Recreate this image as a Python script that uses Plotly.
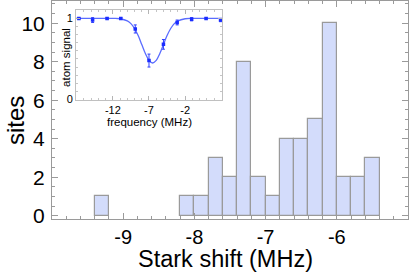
import plotly.graph_objects as go

# Histogram of Stark shifts (bin centres, MHz) and site counts
bin_centers = [-9.3, -8.1, -7.9, -7.7, -7.5, -7.3, -7.1, -6.9, -6.7, -6.5, -6.3, -6.1, -5.9, -5.7, -5.5]
site_counts = [1, 1, 1, 3, 2, 8, 2, 1, 4, 4, 5, 10, 2, 2, 3]
bin_width = 0.2

x_tickvals = [-9, -8, -7, -6]
x_ticktext = ["-9", "-8", "-7", "-6"]
y_tickvals = [0, 2, 4, 6, 8, 10]
y_ticktext = ["0", "2", "4", "6", "8", "10"]

# Inset: atom signal vs frequency
inset_freq = [-16.7, -14.8, -12.8, -10.9, -8.9, -7.0, -5.0, -3.1, -1.1, 0.9, 2.9]
inset_signal = [1.0, 0.98, 1.0, 1.0, 0.87, 0.48, 0.68, 0.95, 0.99, 1.0, 0.98]
inset_err = [0.01, 0.03, 0.01, 0.01, 0.05, 0.08, 0.06, 0.03, 0.02, 0.01, 0.02]

fit_freq = [-17.1, -12.0, -11.0, -10.0, -9.5, -9.0, -8.5, -8.0, -7.5, -7.0, -6.5,
            -6.0, -5.5, -5.0, -4.5, -4.0, -3.5, -3.0, -2.0, -1.0, 3.1]
fit_signal = [1.0, 1.0, 0.996, 0.97, 0.936, 0.876, 0.788, 0.678, 0.567, 0.482, 0.45,
              0.482, 0.567, 0.678, 0.788, 0.876, 0.936, 0.97, 0.996, 1.0, 1.0]

inset_xticks = [-12, -7, -2]
inset_xticktext = ["-12", "-7", "-2"]
inset_yticks = [0, 1]
inset_yticktext = ["0", "1"]

FONT = "Liberation Sans, Arial, sans-serif"
frame = "#9a9a9a"

fig = go.Figure()
fig.add_trace(go.Bar(
    x=bin_centers, y=site_counts, width=bin_width,
    marker=dict(color="#d3dcfb", line=dict(color="#9a9a9a", width=1.2)),
    xaxis="x", yaxis="y", showlegend=False,
))
fig.add_trace(go.Scatter(
    x=fit_freq, y=fit_signal, mode="lines", line=dict(color="#5a6cff", width=1.3, shape="spline"),
    xaxis="x2", yaxis="y2", showlegend=False,
))
fig.add_trace(go.Scatter(
    x=inset_freq, y=inset_signal, mode="markers",
    marker=dict(color="#1a2cff", size=3.5, symbol="square"),
    error_y=dict(type="data", array=inset_err, color="#3040ff", thickness=1, width=1.5),
    xaxis="x2", yaxis="y2", showlegend=False,
))

fig.update_layout(
    width=409, height=275,
    margin=dict(l=52, r=1, t=1, b=56),
    paper_bgcolor="white", plot_bgcolor="white",
    font=dict(family=FONT, color="black"),
    bargap=0,
    xaxis=dict(
        range=[-10.0, -5.0], tickvals=x_tickvals, ticktext=x_ticktext,
        ticks="inside", ticklen=6, tickcolor=frame, tickwidth=1,
        minor=dict(dtick=0.2, tick0=-9, ticks="inside", ticklen=3, tickcolor=frame),
        showline=True, linecolor=frame, linewidth=1, mirror="ticks",
        showgrid=False, zeroline=False, tickfont=dict(size=20),
    ),
    yaxis=dict(
        range=[-0.17, 11.15], tickvals=y_tickvals, ticktext=y_ticktext,
        ticks="inside", ticklen=6, tickcolor=frame, tickwidth=1,
        minor=dict(dtick=0.5, tick0=0, ticks="inside", ticklen=3, tickcolor=frame),
        showline=True, linecolor=frame, linewidth=1, mirror="ticks",
        showgrid=False, zeroline=False, tickfont=dict(size=21), ticklabelstandoff=2,
    ),
    xaxis2=dict(
        domain=[0.0674, 0.4775], anchor="y2",
        range=[-17.1, 3.1], tickvals=inset_xticks, ticktext=inset_xticktext,
        ticks="inside", ticklen=4, tickcolor="#b5b5b5",
        minor=dict(dtick=1, tick0=-12, ticks="inside", ticklen=2, tickcolor="#c5c5c5"),
        showline=True, linecolor="#c0c0c0", linewidth=1, mirror="ticks",
        showgrid=False, zeroline=False, tickfont=dict(size=11),
    ),
    yaxis2=dict(
        domain=[0.5446, 0.961], anchor="x2",
        range=[-0.01, 1.11], tickvals=inset_yticks, ticktext=inset_yticktext,
        ticks="inside", ticklen=4, tickcolor="#b5b5b5",
        minor=dict(dtick=0.1, tick0=0, ticks="inside", ticklen=2, tickcolor="#c5c5c5"),
        showline=True, linecolor="#c0c0c0", linewidth=1, mirror="ticks",
        showgrid=False, zeroline=False, tickfont=dict(size=11),
    ),
    annotations=[
        dict(text="Stark shift (MHz)", xref="paper", yref="paper", x=0.486, y=-0.182,
             xanchor="center", yanchor="middle", showarrow=False, font=dict(size=23.5)),
        dict(text="sites", xref="paper", yref="paper", x=-0.104, y=0.454, textangle=-90,
             xanchor="center", yanchor="middle", showarrow=False, font=dict(size=24)),
        dict(text="frequency (MHz)", xref="paper", yref="paper", x=0.274, y=0.447,
             xanchor="center", yanchor="middle", showarrow=False, font=dict(size=11.5)),
        dict(text="atom signal", xref="paper", yref="paper", x=0.039, y=0.743, textangle=-90,
             xanchor="center", yanchor="middle", showarrow=False, font=dict(size=11.5)),
    ],
)

fig.write_html("out.html", config={"displayModeBar": False},
               post_script="document.body.style.margin='0px';")
